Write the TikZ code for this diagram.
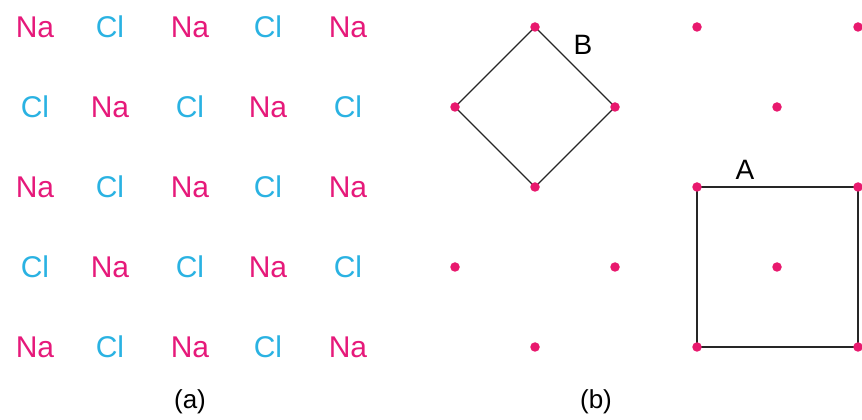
\documentclass[tikz,border=0pt]{standalone}
\usepackage{fontspec}
\setmainfont{Liberation Sans}
\definecolor{namag}{HTML}{E6197A}
\definecolor{clcyan}{HTML}{2AB2E2}
\definecolor{dotmag}{HTML}{E8196E}
\begin{document}
\begin{tikzpicture}[x=1pt,y=1pt,
  natext/.style={text=namag,font=\fontsize{30}{30}\selectfont,inner sep=0pt},
  cltext/.style={text=clcyan,font=\fontsize{30}{30}\selectfont,inner sep=0pt},
  lbl/.style={font=\fontsize{26}{26}\selectfont,inner sep=0pt},
  celllbl/.style={font=\fontsize{28}{28}\selectfont,inner sep=0pt},
  latdot/.style={circle,fill=dotmag,inner sep=0pt,minimum size=9.5pt},
  cell/.style={draw=black!85,line width=1.1pt}]
\useasboundingbox (0,0) rectangle (862,420);
\clip (0,0) rectangle (862,420);
% (a) grid
\foreach \r/\py in {1/27,2/107,3/187,4/267,5/347}{
  \foreach \c/\px in {1/35,2/110,3/190,4/268,5/348}{
    \pgfmathtruncatemacro{\parity}{mod(\r+\c,2)}
    \ifnum\parity=0
      \node[natext] (g\r\c) at (\px,420-\py) {Na};
    \else
      \node[cltext] (g\r\c) at (\px,420-\py) {Cl};
    \fi
  }
}
\node[lbl] (la) at (190,420-402) {(a)};
% (b) lattice points
\coordinate (p1) at (535,420-27);
\coordinate (p2) at (697,420-27);
\coordinate (p3) at (858,420-27);
\coordinate (p4) at (455,420-107);
\coordinate (p5) at (615,420-107);
\coordinate (p6) at (777,420-107);
\coordinate (p7) at (535,420-187);
\coordinate (p8) at (697,420-187);
\coordinate (p9) at (858,420-187);
\coordinate (p10) at (455,420-267);
\coordinate (p11) at (615,420-267);
\coordinate (p12) at (777,420-267);
\coordinate (p13) at (535,420-347);
\coordinate (p14) at (697,420-347);
\coordinate (p15) at (858,420-347);
\draw[cell] (p1) -- (p5) -- (p7) -- (p4) -- cycle;
\draw[cell] (p8) -- (p9) -- (p15) -- (p14) -- cycle;
\foreach \i in {1,...,15}{\node[latdot] (d\i) at (p\i) {};}
\node[celllbl] (lB) at (583,420-45) {B};
\node[celllbl] (lA) at (745,420-170) {A};
\node[lbl] (lb) at (596,420-402) {(b)};
\end{tikzpicture}
\end{document}
